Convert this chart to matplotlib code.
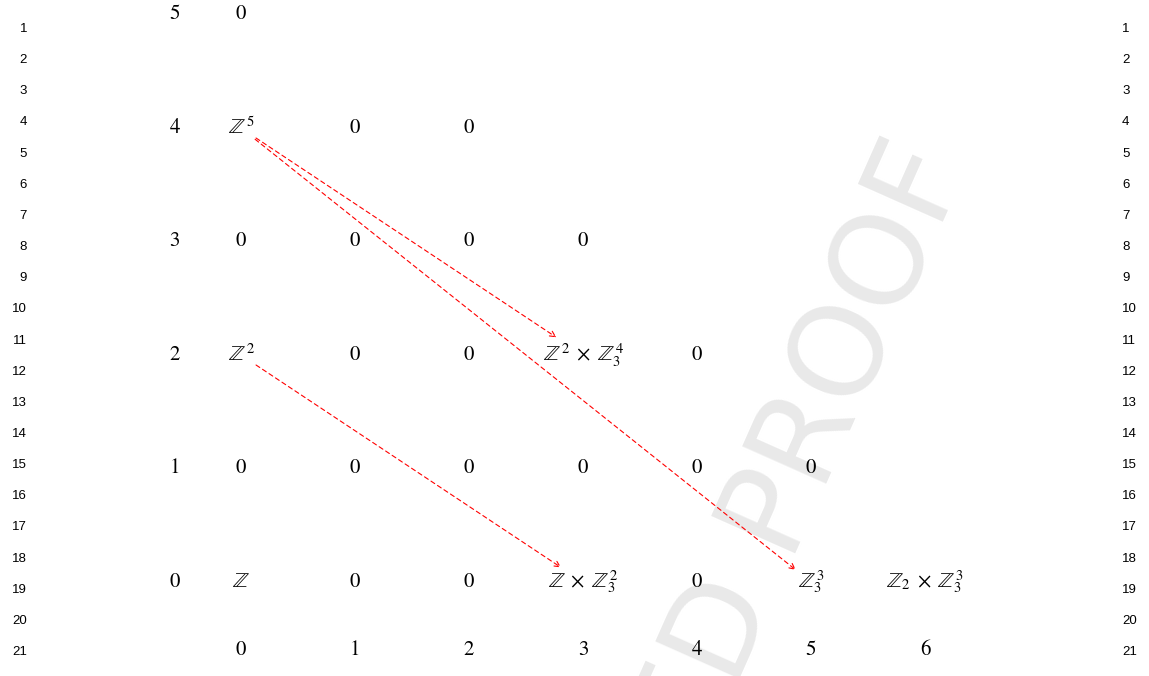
import matplotlib.pyplot as plt

plt.rcParams['mathtext.fontset'] = 'stix'
plt.rcParams['font.family'] = 'STIXGeneral'

# entries of the E2 page, row by row (q = 0 .. 5), columns p = 0 ..
rows = [
    [r'$\mathbb{Z}$', '0', '0', r'$\mathbb{Z}\;\times\;\mathbb{Z}_3^2$', '0', r'$\mathbb{Z}_3^3$', r'$\mathbb{Z}_2\;\times\;\mathbb{Z}_3^3$'],
    ['0', '0', '0', '0', '0', '0'],
    [r'$\mathbb{Z}^2$', '0', '0', r'$\mathbb{Z}^2\;\times\;\mathbb{Z}_3^4$', '0'],
    ['0', '0', '0', '0'],
    [r'$\mathbb{Z}^5$', '0', '0'],
    ['0'],
]
col_labels = ['0', '1', '2', '3', '4', '5', '6']
row_labels = ['0', '1', '2', '3', '4', '5']

# differentials: (p, q) -> (p, q)
arrow_src = [(0, 4), (0, 4), (0, 2)]
arrow_dst = [(3, 2), (5, 0), (3, 0)]
shrink_a = [13, 13, 13]
shrink_b = [23, 14, 19]

line_numbers = list(range(1, 22))

fig = plt.figure(figsize=(11.49, 6.76), dpi=100)
ax = fig.add_axes([0, 0, 1, 1])
ax.set_xlim(-2.114, 7.965)
ax.set_ylim(-0.828, 5.128)
ax.axis('off')

# watermark, behind everything
ax.text(0.843, 0.755, 'UNCORRECTED PROOF', fontsize=91, color='#e9e9e9',
        family='DejaVu Sans', rotation=66, rotation_mode='anchor',
        ha='right', va='baseline', transform=fig.transFigure, zorder=0)

for q, row in enumerate(rows):
    for p, s in enumerate(row):
        ax.text(p, q, s, fontsize=15, ha='center', va='center', zorder=3)

for q, s in enumerate(row_labels):
    ax.text(-0.58, q, s, fontsize=15, ha='center', va='center', zorder=3)
for p, s in enumerate(col_labels):
    ax.text(p, -0.6, s, fontsize=15, ha='center', va='center', zorder=3)

for i in range(len(arrow_src)):
    ax.annotate('', xy=arrow_dst[i], xytext=arrow_src[i],
                arrowprops=dict(arrowstyle='->', color='red', ls=(0, (4, 3)),
                                lw=0.8, shrinkA=shrink_a[i], shrinkB=shrink_b[i]),
                zorder=4)

for n in line_numbers:
    y = 1 - (29 + (n - 1) * 31.15) / 676
    fig.text(27 / 1149, y, str(n), fontsize=9.5, family='Liberation Sans',
             ha='right', va='center')
    fig.text(1122 / 1149, y, str(n), fontsize=9.5, family='Liberation Sans',
             ha='left', va='center')

fig.savefig('out.png', dpi=100)
